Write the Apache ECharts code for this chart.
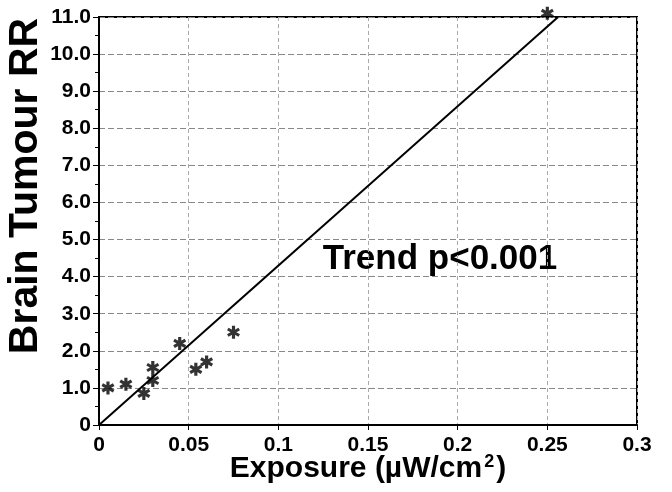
<!DOCTYPE html>
<html>
<head>
<meta charset="utf-8">
<script src="https://cdn.jsdelivr.net/npm/echarts@6/dist/echarts.min.js"></script>
<style>html,body{margin:0;padding:0;background:#fff;}#c{width:672px;height:492px;}</style>
</head>
<body>
<div id="c"></div>
<script>
// Data
const exposure = [0.005, 0.015, 0.025, 0.03, 0.03, 0.045, 0.054, 0.06, 0.075, 0.25];
const tumourRR = [1.0, 1.1, 0.85, 1.2, 1.55, 2.2, 1.5, 1.7, 2.5, 11.1];
const trendX = [0, 0.256];
const trendY = [0, 11];
const xTicks = [0, 0.05, 0.1, 0.15, 0.2, 0.25, 0.3];
const yTicks = [0, 1, 2, 3, 4, 5, 6, 7, 8, 9, 10, 11];
const annotation = 'Trend p<0.001';
const xTitle = 'Exposure (µW/cm';
const yTitle = 'Brain Tumour RR';

const FONT = '"Liberation Sans", Arial, sans-serif';
const asterisk = 'path://M-1.2,-5L1.2,-5L1.2,5L-1.2,5Z M3.73,-3.54L4.93,-1.46L-3.73,3.54L-4.93,1.46Z M-4.93,-1.46L-3.73,-3.54L4.93,1.46L3.73,3.54Z';

const chart = echarts.init(document.getElementById('c'), null, {renderer: 'canvas'});
chart.setOption({
  backgroundColor: '#fff',
  animation: false,
  grid: {left: 99, right: 35, top: 17, bottom: 67, containLabel: false, outerBoundsMode: 'none',
    show: true, borderColor: '#000', borderWidth: 2, backgroundColor: 'transparent'},
  xAxis: {
    type: 'value',
    min: xTicks[0], max: xTicks[xTicks.length - 1], interval: 0.05,
    axisLine: {lineStyle: {color: '#000', width: 2}},
    axisTick: {show: true, length: 5, lineStyle: {color: '#000'}},
    axisLabel: {color: '#000', fontFamily: FONT, fontWeight: 'bold', fontSize: 21, margin: 10,
      formatter: v => String(+v.toFixed(2))},
    splitLine: {show: true, lineStyle: {color: '#aaa', type: [4, 3], width: 1}},
    name: '{a|' + xTitle + '}{s|2}{a|)}',
    nameLocation: 'middle',
    nameGap: 28,
    nameMoveOverlap: false,
    nameTextStyle: {
      rich: {
        a: {fontFamily: FONT, fontWeight: 'bold', fontSize: 30, color: '#000'},
        s: {fontFamily: FONT, fontWeight: 'bold', fontSize: 18, color: '#000', padding: [0, 2, 14, 2]}
      }
    }
  },
  yAxis: {
    type: 'value',
    min: yTicks[0], max: yTicks[yTicks.length - 1], interval: 1,
    axisLine: {show: true, lineStyle: {color: '#000', width: 2}},
    axisTick: {show: true, length: 6, lineStyle: {color: '#000'}},
    minorTick: {show: true, splitNumber: 2, length: 4, lineStyle: {color: '#000'}},
    axisLabel: {color: '#000', fontFamily: FONT, fontWeight: 'bold', fontSize: 21, margin: 8,
      formatter: v => v === 0 ? '0' : v.toFixed(1)},
    splitLine: {show: true, lineStyle: {color: '#888', type: [6, 3], width: 1}}
  },
  series: [
    {
      type: 'line',
      data: trendX.map((x, i) => [x, trendY[i]]),
      showSymbol: false,
      symbol: 'none',
      lineStyle: {color: '#000', width: 2},
      clip: false,
      z: 3
    },
    {
      type: 'scatter',
      data: exposure.map((x, i) => [x, tumourRR[i]]),
      symbol: asterisk,
      symbolSize: 13,
      itemStyle: {color: '#000'},
      clip: false,
      z: 4
    }
  ],
  graphic: [
    {
      type: 'text',
      x: 26, y: 186,
      rotation: Math.PI / 2,
      style: {text: yTitle, fontFamily: FONT, fontWeight: 'bold', fontSize: 41, fill: '#000',
        textAlign: 'center', textVerticalAlign: 'middle'}
    },
    {
      type: 'text',
      x: 440, y: 259,
      style: {text: annotation, fontFamily: FONT, fontWeight: 'bold', fontSize: 35, fill: '#000',
        textAlign: 'center', textVerticalAlign: 'middle'}
    }
  ]
});
</script>
</body>
</html>
